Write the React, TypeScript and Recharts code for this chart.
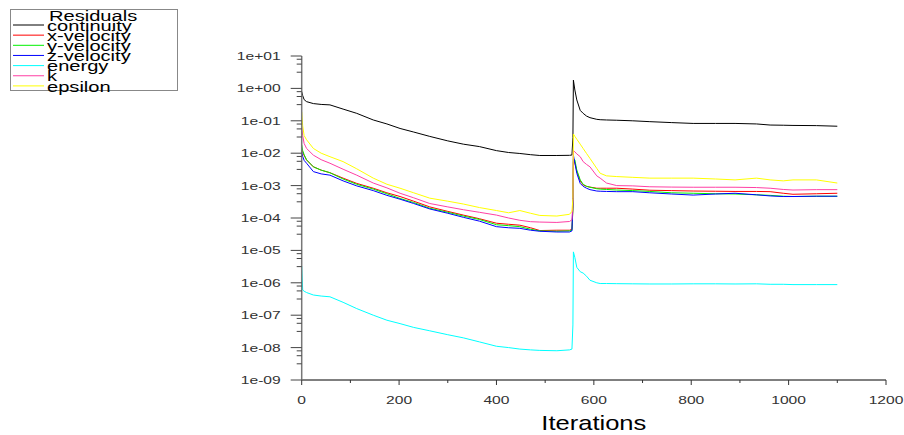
import { LineChart, Line, XAxis, YAxis, Legend } from "recharts";

// iteration numbers shared by all residual series
const ITER = [
  0, 2, 5, 10, 24, 40, 58, 85, 113, 147, 175, 202, 230, 263, 300, 332, 365, 400, 425, 448, 470, 489, 524, 550,
  555, 557, 558, 561, 565, 572, 578, 585, 592, 606, 613, 626, 647, 680, 715, 760, 804, 850, 890, 934, 962, 989,
  1009, 1057, 1100,
];

const CONTINUITY = [
  0.8, 0.6, 0.45, 0.39, 0.34, 0.32, 0.31, 0.23, 0.17, 0.106, 0.08, 0.058, 0.045, 0.033, 0.024, 0.019, 0.016, 0.012,
  0.0105, 0.0098, 0.009, 0.0085, 0.0085, 0.0086, 0.0088, 0.03, 1.8, 0.89, 0.44, 0.21, 0.17, 0.14, 0.125, 0.111,
  0.108, 0.106, 0.104, 0.1, 0.094, 0.088, 0.083, 0.083, 0.083, 0.08, 0.074, 0.073, 0.072, 0.071, 0.068,
];

const X_VELOCITY = [
  0.014, 0.011, 0.0085, 0.0062, 0.0038, 0.003, 0.0025, 0.0017, 0.00117, 0.00083, 0.0006, 0.00046, 0.00033, 0.00022,
  0.00016, 0.000123, 0.000095, 0.000069, 0.000064, 0.00006, 0.00005, 0.000041, 0.000042, 0.000042, 0.000045, 0.0002,
  0.0055, 0.005, 0.0028, 0.0014, 0.00105, 0.00095, 0.0009, 0.00083, 0.00083, 0.00083, 0.00083, 0.00078, 0.00072,
  0.0007, 0.00068, 0.00067, 0.00066, 0.00066, 0.00065, 0.00058, 0.00054, 0.00056, 0.00058,
];

const Y_VELOCITY = [
  0.018, 0.012, 0.009, 0.0062, 0.0038, 0.003, 0.0025, 0.0016, 0.0011, 0.00078, 0.00056, 0.0004, 0.0003, 0.0002,
  0.00015, 0.000115, 0.00009, 0.000062, 0.000058, 0.000054, 0.000045, 0.00004, 0.000039, 0.00004, 0.000042, 0.0002,
  0.0065, 0.0062, 0.003, 0.0015, 0.0011, 0.00095, 0.00089, 0.0008, 0.00078, 0.00076, 0.00073, 0.0007, 0.00066,
  0.0006, 0.00058, 0.00056, 0.00055, 0.00052, 0.0005, 0.00047, 0.00046, 0.00047, 0.00047,
];

const Z_VELOCITY = [
  0.011, 0.008, 0.006, 0.0049, 0.0027, 0.0023, 0.0021, 0.0014, 0.00098, 0.0007, 0.0005, 0.00038, 0.00028, 0.00019,
  0.00014, 0.000105, 0.00008, 0.000054, 0.00005, 0.000048, 0.000042, 0.000039, 0.000037, 0.000037, 0.00004, 0.0003,
  0.0087, 0.005, 0.0024, 0.00117, 0.00095, 0.00083, 0.00075, 0.00068, 0.00067, 0.00066, 0.00065, 0.00065, 0.0006,
  0.00055, 0.00051, 0.00055, 0.00058, 0.00052, 0.00048, 0.00046, 0.00046, 0.00047, 0.00047,
];

const ENERGY = [
  3.3e-6, 6e-7, 5.5e-7, 5e-7, 4.2e-7, 3.9e-7, 3.7e-7, 2.5e-7, 1.6e-7, 1e-7, 7e-8, 5.5e-8, 4.2e-8, 3.3e-8, 2.5e-8,
  2e-8, 1.5e-8, 1.1e-8, 1e-8, 9e-9, 8.5e-9, 8.2e-9, 8e-9, 8.5e-9, 9e-9, 5e-8, 9e-6, 6e-6, 3e-6, 2.2e-6, 2e-6, 1.6e-6,
  1.2e-6, 1e-6, 9.5e-7, 9.5e-7, 9.4e-7, 9.3e-7, 9.2e-7, 9.2e-7, 9.3e-7, 9.3e-7, 9.2e-7, 9.3e-7, 9e-7, 9e-7, 8.8e-7,
  8.8e-7, 8.8e-7,
];

const K = [
  0.066, 0.035, 0.02, 0.014, 0.0087, 0.0063, 0.0049, 0.0032, 0.0021, 0.0012, 0.00085, 0.00058, 0.00042, 0.00028,
  0.00022, 0.00018, 0.00015, 0.000123, 0.0001, 0.000085, 0.000077, 0.000075, 0.000073, 0.000078, 0.000088, 0.0003,
  0.012, 0.011, 0.0095, 0.0078, 0.0055, 0.0045, 0.0038, 0.002, 0.0017, 0.0012, 0.001, 0.00098, 0.00092, 0.0009,
  0.00089, 0.00089, 0.00089, 0.00087, 0.00083, 0.00076, 0.00073, 0.00075, 0.00075,
];

const EPSILON = [
  0.19, 0.07, 0.035, 0.026, 0.014, 0.01, 0.0078, 0.0055, 0.0033, 0.0017, 0.0011, 0.00083, 0.0006, 0.00041, 0.00033,
  0.00027, 0.00021, 0.00017, 0.000145, 0.00017, 0.00014, 0.00012, 0.000115, 0.00013, 0.00016, 0.0004, 0.039, 0.033,
  0.027, 0.019, 0.014, 0.0098, 0.0069, 0.0034, 0.0024, 0.002, 0.0019, 0.0018, 0.0017, 0.0017, 0.0017, 0.0016,
  0.0015, 0.0017, 0.0015, 0.0014, 0.0015, 0.0015, 0.0012,
];

const SERIES = [
  { key: "continuity", color: "#000000", values: CONTINUITY },
  { key: "x-velocity", color: "#ff0000", values: X_VELOCITY },
  { key: "y-velocity", color: "#00f000", values: Y_VELOCITY },
  { key: "z-velocity", color: "#0000ff", values: Z_VELOCITY },
  { key: "energy", color: "#00ffff", values: ENERGY },
  { key: "k", color: "#ff3fa4", values: K },
  { key: "epsilon", color: "#ffff00", values: EPSILON },
];

const X_TICKS = [0, 100, 200, 300, 400, 500, 600, 700, 800, 900, 1000, 1100, 1200];
const X_LABELS: Record<number, string> = { 0: "0", 200: "200", 400: "400", 600: "600", 800: "800", 1000: "1000", 1200: "1200" };

const Y_MAJOR = [1e1, 1e0, 1e-1, 1e-2, 1e-3, 1e-4, 1e-5, 1e-6, 1e-7, 1e-8, 1e-9];
const Y_LABELS = ["1e+01", "1e+00", "1e-01", "1e-02", "1e-03", "1e-04", "1e-05", "1e-06", "1e-07", "1e-08", "1e-09"];
const Y_MINOR_STEPS = [3.16, 5.62, 7.94];
const Y_TICKS = [...Y_MAJOR, ...Y_MAJOR.slice(1).flatMap((m) => Y_MINOR_STEPS.map((s) => m * s))];

const FONT = "'Liberation Sans', Arial, sans-serif";

const data = ITER.map((it, i) => {
  const row: Record<string, number> = { it };
  SERIES.forEach((s) => {
    row[s.key] = s.values[i];
  });
  return row;
});

function majorIndex(v: number) {
  return Y_MAJOR.findIndex((m) => Math.abs(Math.log10(m) - Math.log10(v)) < 1e-6);
}

function YTick(props: any) {
  const { x, y, payload } = props;
  const idx = majorIndex(payload.value);
  const major = idx >= 0;
  return (
    <g>
      <line x1={x - (major ? 11 : 5)} x2={x} y1={y} y2={y} stroke="#444" strokeWidth={1} />
      {major && (
        <text
          transform={`translate(${x - 21},${y + 4}) scale(1.42,1)`}
          textAnchor="end"
          fontSize={11}
          fontFamily={FONT}
          fill="#333"
        >
          {Y_LABELS[idx]}
        </text>
      )}
    </g>
  );
}

function XTick(props: any) {
  const { x, y, payload } = props;
  const label = X_LABELS[payload.value];
  return (
    <g>
      <line x1={x} x2={x} y1={y} y2={y + (label ? 5 : 3)} stroke="#333" strokeWidth={1} />
      {label && (
        <text
          transform={`translate(${x},${y + 24}) scale(1.42,1)`}
          textAnchor="middle"
          fontSize={11}
          fontFamily={FONT}
          fill="#333"
        >
          {label}
        </text>
      )}
    </g>
  );
}

function XTitle(props: any) {
  const { viewBox } = props;
  const cx = viewBox.x + viewBox.width / 2;
  return (
    <text
      x={cx}
      y={viewBox.y + 50}
      textAnchor="middle"
      fontSize={21}
      fontFamily={FONT}
      fill="#000"
      textLength={105}
      lengthAdjust="spacingAndGlyphs"
    >
      Iterations
    </text>
  );
}

function LegendBox() {
  return (
    <svg width={190} height={100} style={{ display: "block" }}>
      <rect x={10.5} y={9.5} width={167} height={81} fill="#fff" stroke="#888" strokeWidth={1} />
      <text transform="translate(49,20.5) scale(1.34,1)" fontSize={15} fontFamily={FONT} fill="#000">
        Residuals
      </text>
      {SERIES.map((s, i) => {
        const ly = 25 + i * 10.15;
        return (
          <g key={s.key}>
            <line x1={13} x2={44} y1={ly} y2={ly} stroke={s.color} strokeWidth={1} />
            <text transform={`translate(47,${ly + 5.7}) scale(1.34,1)`} fontSize={15} fontFamily={FONT} fill="#000">
              {s.key}
            </text>
          </g>
        );
      })}
    </svg>
  );
}

export default function App() {
  return (
    <div style={{ position: "absolute", left: 0, top: 0, width: 904, height: 435, background: "#fff" }}>
      <LineChart width={904} height={435} data={data} margin={{ top: 56, right: 18, bottom: 0, left: 221.7 }}>
        <XAxis
          dataKey="it"
          type="number"
          domain={[0, 1200]}
          ticks={X_TICKS}
          interval={0}
          height={55}
          tickSize={0}
          tickMargin={0}
          tickLine={false}
          tick={<XTick />}
          axisLine={{ stroke: "#000", strokeWidth: 1 }}
          label={{ content: <XTitle /> }}
        />
        <YAxis
          type="number"
          scale="log"
          domain={[1e-9, 10]}
          allowDataOverflow
          ticks={Y_TICKS}
          interval={0}
          width={80}
          tickSize={0}
          tickMargin={0}
          tickLine={false}
          tick={<YTick />}
          axisLine={{ stroke: "#777", strokeWidth: 1.5 }}
        />
        <Legend
          layout="horizontal"
          verticalAlign="middle"
          content={<LegendBox />}
          wrapperStyle={{ position: "absolute", left: 0, top: 0, width: 190, height: 100 }}
        />
        {SERIES.map((s) => (
          <Line
            key={s.key}
            type="linear"
            dataKey={s.key}
            name={s.key}
            stroke={s.color}
            strokeWidth={1}
            dot={false}
            activeDot={false}
            isAnimationActive={false}
          />
        ))}
      </LineChart>
    </div>
  );
}
